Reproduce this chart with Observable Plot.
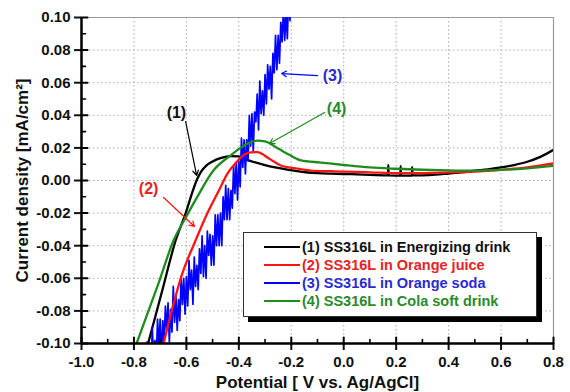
<!DOCTYPE html>
<html>
<head>
<meta charset="utf-8">
<script src="https://cdn.jsdelivr.net/npm/d3@7"></script>
<script src="https://cdn.jsdelivr.net/npm/@observablehq/plot@0.6"></script>
<style>
  body { margin: 0; background: #fff; }
  #wrap { position: relative; width: 570px; height: 392px; font-family: "Liberation Sans", Arial, sans-serif; }
  #legend { position: absolute; left: 243px; top: 232px; width: 292px; height: 83px; border: 1.5px solid #333; background: #fff; box-shadow: 5px 5px 0 #000; }
  .row { position: absolute; left: 0; height: 18px; display: flex; align-items: center; font-weight: bold; font-size: 14.5px; white-space: nowrap; }
  .sw { display: inline-block; width: 36px; height: 2px; margin-left: 20px; margin-right: 2px; }
</style>
</head>
<body>
<div id="wrap"><div id="legend"></div></div>
<script>
// ---- axes / ticks ----
const xDomain = [-1.0, 0.8];
const yDomain = [-0.10, 0.10];
const xTicks = [-1.0, -0.8, -0.6, -0.4, -0.2, 0.0, 0.2, 0.4, 0.6, 0.8];
const xTickLabels = ["-1.0", "-0.8", "-0.6", "-0.4", "-0.2", "0.0", "0.2", "0.4", "0.6", "0.8"];
const xMinor = [-0.9, -0.7, -0.5, -0.3, -0.1, 0.1, 0.3, 0.5, 0.7];
const yTicks = [-0.10, -0.08, -0.06, -0.04, -0.02, 0.00, 0.02, 0.04, 0.06, 0.08, 0.10];
const yTickLabels = ["-0.10", "-0.08", "-0.06", "-0.04", "-0.02", "0.00", "0.02", "0.04", "0.06", "0.08", "0.10"];
const yMinor = [-0.09, -0.07, -0.05, -0.03, -0.01, 0.01, 0.03, 0.05, 0.07, 0.09];
const xTitle = "Potential [ V vs. Ag/AgCl]";
const yTitle = "Current density [mA/cm²]";

// ---- series ----
const seriesNames = ["(1) SS316L in Energizing drink", "(2) SS316L in Orange juice", "(3) SS316L in Orange soda", "(4) SS316L in Cola soft drink"];

const energizingV = [-0.746, -0.692, -0.641, -0.603, -0.58, -0.56, -0.545, -0.525, -0.50, -0.47, -0.43, -0.40, -0.365, -0.308, -0.240, -0.137, -0.10, -0.05, 0.0, 0.05, 0.10, 0.15, 0.169, 0.170, 0.171, 0.20, 0.216, 0.217, 0.218, 0.245, 0.260, 0.261, 0.262, 0.30, 0.35, 0.40, 0.45, 0.50, 0.55, 0.60, 0.65, 0.70, 0.75, 0.80];
const energizingJ = [-0.100, -0.0675, -0.0368, -0.0202, -0.0085, 0.0005, 0.0052, 0.0090, 0.0117, 0.0137, 0.0150, 0.0148, 0.0125, 0.0098, 0.0074, 0.0049, 0.0045, 0.0042, 0.0040, 0.0038, 0.0035, 0.0032, 0.0031, 0.0095, 0.0031, 0.0030, 0.0030, 0.0088, 0.0030, 0.0030, 0.0030, 0.0082, 0.0031, 0.0032, 0.0036, 0.0043, 0.0050, 0.0060, 0.0068, 0.0080, 0.0095, 0.0115, 0.0145, 0.0188];

const juiceV = [-0.687, -0.616, -0.565, -0.521, -0.476, -0.444, -0.41, -0.38, -0.355, -0.33, -0.285, -0.240, -0.183, -0.125, -0.05, 0.0, 0.1, 0.2, 0.3, 0.4, 0.5, 0.6, 0.7, 0.8];
const juiceJ = [-0.100, -0.0573, -0.0368, -0.0204, -0.0061, 0.0041, 0.0110, 0.0158, 0.0172, 0.0174, 0.0135, 0.0092, 0.0074, 0.0061, 0.0057, 0.0055, 0.0050, 0.0045, 0.0045, 0.0050, 0.0055, 0.0065, 0.0080, 0.0105];

const sodaV = [-0.770, -0.765, -0.760, -0.755, -0.750, -0.745, -0.740, -0.735, -0.730, -0.725, -0.720, -0.715, -0.710, -0.705, -0.700, -0.695, -0.690, -0.685, -0.680, -0.675, -0.670, -0.665, -0.660, -0.655, -0.650, -0.645, -0.640, -0.635, -0.630, -0.625, -0.620, -0.615, -0.610, -0.605, -0.600, -0.595, -0.590, -0.585, -0.580, -0.575, -0.570, -0.565, -0.560, -0.555, -0.550, -0.545, -0.540, -0.535, -0.530, -0.525, -0.520, -0.515, -0.510, -0.505, -0.500, -0.495, -0.490, -0.485, -0.480, -0.475, -0.470, -0.465, -0.460, -0.455, -0.450, -0.445, -0.440, -0.435, -0.430, -0.425, -0.420, -0.415, -0.410, -0.405, -0.400, -0.395, -0.390, -0.385, -0.380, -0.375, -0.370, -0.365, -0.360, -0.355, -0.350, -0.345, -0.340, -0.335, -0.330, -0.325, -0.320, -0.315, -0.310, -0.305, -0.300, -0.295, -0.290, -0.285, -0.280, -0.275, -0.270, -0.265, -0.260, -0.255, -0.250, -0.245, -0.240, -0.235, -0.230, -0.225, -0.220, -0.215, -0.210, -0.205, -0.200, -0.195, -0.190];
const sodaJ = [-0.109, -0.129, -0.110, -0.129, -0.099, -0.114, -0.100, -0.121, -0.090, -0.112, -0.098, -0.111, -0.085, -0.103, -0.085, -0.110, -0.086, -0.100, -0.077, -0.092, -0.075, -0.099, -0.079, -0.093, -0.065, -0.087, -0.070, -0.092, -0.073, -0.086, -0.059, -0.076, -0.060, -0.082, -0.059, -0.077, -0.049, -0.067, -0.055, -0.076, -0.047, -0.065, -0.052, -0.067, -0.042, -0.057, -0.034, -0.059, -0.040, -0.060, -0.031, -0.046, -0.033, -0.052, -0.034, -0.052, -0.021, -0.040, -0.021, -0.040, -0.020, -0.040, -0.010, -0.024, -0.003, -0.024, -0.005, -0.024, -0.006, -0.017, 0.009, -0.008, 0.011, -0.012, 0.012, -0.004, 0.026, 0.008, 0.025, 0.004, 0.025, 0.012, 0.040, 0.021, 0.041, 0.018, 0.042, 0.036, 0.053, 0.031, 0.061, 0.041, 0.055, 0.040, 0.065, 0.047, 0.071, 0.056, 0.070, 0.050, 0.078, 0.066, 0.089, 0.068, 0.089, 0.072, 0.097, 0.085, 0.105, 0.086, 0.104, 0.087, 0.115, 0.098, 0.122, 0.106, 0.123];

const colaV = [-0.79, -0.706, -0.649, -0.60, -0.559, -0.497, -0.432, -0.368, -0.33, -0.30, -0.25, -0.202, -0.163, -0.087, 0.0, 0.1, 0.2, 0.3, 0.4, 0.5, 0.6, 0.7, 0.8];
const colaJ = [-0.100, -0.063, -0.0368, -0.022, -0.0102, 0.0061, 0.0153, 0.0225, 0.0245, 0.0240, 0.0196, 0.0153, 0.0123, 0.0110, 0.0095, 0.0080, 0.0072, 0.0066, 0.0062, 0.0060, 0.0065, 0.0075, 0.0090];

// ---- annotations ----
const annoLabels = ["(1)", "(2)", "(3)", "(4)"];
const annoTextV = [-0.638, -0.744, -0.043, -0.027];
const annoTextJ = [0.0417, -0.0049, 0.0644, 0.0442];
const annoFromV = [-0.603, -0.687, -0.100, -0.073];
const annoFromJ = [0.0362, -0.0104, 0.0644, 0.0417];
const annoToV = [-0.561, -0.569, -0.237, -0.283];
const annoToJ = [0.0031, -0.0282, 0.0656, 0.0227];

// ---- styles ----
const lineColors = ["#000000", "#ff1414", "#0000ff", "#1e8c1e"];
const textColors = ["#111111", "#e82222", "#2a2ad2", "#2a8a2a"];
const FONT = "Liberation Sans, Arial, sans-serif";

const toRows = (V, J) => V.map((v, i) => ({v, j: J[i]}));
const series = [
  toRows(energizingV, energizingJ),
  toRows(juiceV, juiceJ),
  toRows(sodaV, sodaJ),
  toRows(colaV, colaJ)
];
const annos = annoLabels.map((t, i) => ({t, i, tx: annoTextV[i], ty: annoTextJ[i], x1: annoFromV[i], y1: annoFromJ[i], x2: annoToV[i], y2: annoToJ[i]}));

const tickPath = {draw(context, l) { context.moveTo(0, 0); context.lineTo(0, -l); }};

const lineMark = (k, w, curve) => Plot.line(series[k], {x: "v", y: "j", stroke: lineColors[k], strokeWidth: w, curve, clip: true});

const chart = Plot.plot({
  width: 570,
  height: 392,
  marginLeft: 81,
  marginRight: 17,
  marginTop: 17,
  marginBottom: 49,
  x: {domain: xDomain},
  y: {domain: yDomain},
  style: {fontFamily: FONT, background: "white", color: "#111"},
  marks: [
    Plot.gridX(xTicks, {stroke: "#aaaaaa", strokeOpacity: 1, strokeWidth: 1, strokeDasharray: "1.5,2.5"}),
    Plot.gridY(yTicks, {stroke: "#aaaaaa", strokeOpacity: 1, strokeWidth: 1, strokeDasharray: "1.5,2.5"}),
    Plot.ruleY([yDomain[1]], {stroke: "#9a9a9a", strokeWidth: 1.2}),
    Plot.ruleX([xDomain[1]], {stroke: "#9a9a9a", strokeWidth: 1.2}),
    lineMark(0, 2.3, "monotone-x"),
    lineMark(2, 1.7, "linear"),
    lineMark(1, 2.3, "monotone-x"),
    lineMark(3, 2.3, "monotone-x"),
    Plot.arrow(annos, {x1: "x1", y1: "y1", x2: "x2", y2: "y2", stroke: (d) => lineColors[d.i], strokeWidth: 1.2, headLength: 7}),
    Plot.text(annos, {x: "tx", y: "ty", text: "t", fill: (d) => textColors[d.i], fontSize: 16, fontWeight: "bold"}),
    Plot.axisX({ticks: xTicks, tickFormat: (d) => xTickLabels[xTicks.indexOf(d)], tickSize: 7, tickPadding: 6, strokeWidth: 2, fontSize: 15, fontWeight: "bold", fill: "#111", label: null}),
    Plot.axisY({ticks: yTicks, tickFormat: (d) => yTickLabels[yTicks.indexOf(d)], tickSize: 7, tickPadding: 4, strokeWidth: 2, fontSize: 15, fontWeight: "bold", fill: "#111", label: null}),
    Plot.vector(xTicks, {x: (d) => d, y: yDomain[0], length: 6, rotate: 0, anchor: "start", shape: tickPath, stroke: "#000", strokeWidth: 2}),
    Plot.vector(xMinor, {x: (d) => d, y: yDomain[0], length: 4, rotate: 0, anchor: "start", shape: tickPath, stroke: "#000", strokeWidth: 1.6}),
    Plot.vector(yTicks, {x: xDomain[0], y: (d) => d, length: 6, rotate: 90, anchor: "start", shape: tickPath, stroke: "#000", strokeWidth: 2}),
    Plot.vector(yMinor, {x: xDomain[0], y: (d) => d, length: 4, rotate: 90, anchor: "start", shape: tickPath, stroke: "#000", strokeWidth: 1.6}),
    Plot.ruleY([yDomain[0]], {stroke: "#000", strokeWidth: 2.5}),
    Plot.ruleX([xDomain[0]], {stroke: "#000", strokeWidth: 2.5}),
    Plot.text([xTitle], {text: (d) => d, frameAnchor: "bottom", dy: 39, lineAnchor: "middle", textAnchor: "middle", fontSize: 17, fontWeight: "bold", fill: "#111"}),
    Plot.text([yTitle], {text: (d) => d, frameAnchor: "left", dx: -59, rotate: -90, textAnchor: "middle", lineAnchor: "middle", fontSize: 17, fontWeight: "bold", fill: "#111"})
  ]
});

const wrap = document.getElementById("wrap");
wrap.insertBefore(chart, wrap.firstChild);

// legend (HTML overlay)
const legend = document.getElementById("legend");
const rowTops = [4.5, 22.5, 40.5, 59];
seriesNames.forEach((name, k) => {
  const row = document.createElement("div");
  row.className = "row";
  row.style.top = rowTops[k] + "px";
  const sw = document.createElement("span");
  sw.className = "sw";
  sw.style.background = lineColors[k];
  const tx = document.createElement("span");
  tx.textContent = name;
  tx.style.color = textColors[k];
  row.appendChild(sw);
  row.appendChild(tx);
  legend.appendChild(row);
});
</script>
</body>
</html>
